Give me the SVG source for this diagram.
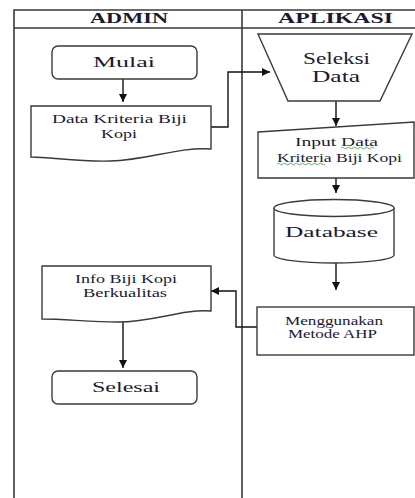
<svg xmlns="http://www.w3.org/2000/svg" width="415" height="498" viewBox="0 0 415 498">
<style>
.frame{fill:none;stroke:#3a3a3a;stroke-width:1.6}
.shape{fill:#fff;stroke:#3a3a3a;stroke-width:1.4}
.line{fill:none;stroke:#111;stroke-width:1.4}
.t{font-family:"Liberation Serif","Times New Roman",serif;fill:#1a1a35}
.h{font-weight:bold;font-size:14px}
.big{font-size:15.5px}
.sm{font-size:11.5px}
.sq{fill:none;stroke:#3c9a3c;stroke-width:0.8}
</style>
<defs>
<marker id="ah" viewBox="0 0 10 10" refX="10" refY="5" markerWidth="8" markerHeight="8" markerUnits="userSpaceOnUse" orient="auto">
<path d="M0,0 L10,5 L0,10 Z" fill="#111"/>
</marker>
</defs>
<g id="frame">
<path class="frame" d="M14,498 V10 H415 M14,28 H415 M242,10 V498"/>
<text class="t h" x="90" y="23" textLength="78" lengthAdjust="spacingAndGlyphs">ADMIN</text>
<text class="t h" x="278" y="23" textLength="115" lengthAdjust="spacingAndGlyphs">APLIKASI</text>
</g>
<g id="connectors">
<path class="line" d="M123,79 V102" marker-end="url(#ah)"/>
<path class="line" d="M211,127 H228 V72 H270" marker-end="url(#ah)"/>
<path class="line" d="M336,101 V126" marker-end="url(#ah)"/>
<path class="line" d="M336,178 V193" marker-end="url(#ah)"/>
<path class="line" d="M336,263 V290" marker-end="url(#ah)"/>
<path class="line" d="M257,327 H236 V291 H211" marker-end="url(#ah)"/>
<path class="line" d="M123,320 V368" marker-end="url(#ah)"/>
</g>
<g id="mulai">
<rect class="shape" x="52" y="46" width="145" height="33" rx="6"/>
<text class="t big" x="93" y="67" textLength="62" lengthAdjust="spacingAndGlyphs">Mulai</text>
</g>
<g id="data-kriteria">
<path class="shape" d="M31,106 H211 V149 C175,147 150,160 110,161 C80,162 50,157 31,157 Z"/>
<text class="t sm" x="52" y="123" textLength="135" lengthAdjust="spacingAndGlyphs">Data Kriteria  Biji</text>
<text class="t sm" x="101" y="138" textLength="36" lengthAdjust="spacingAndGlyphs">Kopi</text>
</g>
<g id="seleksi">
<path class="shape" d="M258,34 H412 L380,101 H288 Z"/>
<text class="t big" x="303" y="64" textLength="67" lengthAdjust="spacingAndGlyphs" style="font-size:16px">Seleksi</text>
<text class="t big" x="312" y="82" textLength="48" lengthAdjust="spacingAndGlyphs" style="font-size:16px">Data</text>
</g>
<g id="input-data">
<path class="shape" d="M258,132 L414,122 V178 H258 Z"/>
<text class="t sm" x="295" y="146" textLength="83" lengthAdjust="spacingAndGlyphs">Input Data</text>
<text class="t sm" x="277" y="162" textLength="125" lengthAdjust="spacingAndGlyphs">Kriteria Biji Kopi</text>
<path class="sq" d="M341,148 q1.5,-1.5 3,0 t3,0 t3,0 t3,0 t3,0 t3,0 t3,0 t3,0 t3,0 t3,0 t3,0"/>
<path class="sq" d="M277,164 q1.5,-1.5 3,0 t3,0 t3,0 t3,0 t3,0 t3,0 t3,0 t3,0 t3,0 t3,0 t3,0 t3,0 t3,0 t3,0 t3,0 t3,0"/>
</g>
<g id="database">
<path class="shape" d="M274,208 V255 A60,8 0 0 0 394,255 V208"/>
<ellipse class="shape" cx="334" cy="208" rx="60" ry="8.5"/>
<text class="t big" x="285" y="237" textLength="93" lengthAdjust="spacingAndGlyphs">Database</text>
</g>
<g id="ahp">
<rect class="shape" x="257" y="307" width="157" height="48"/>
<text class="t sm" x="285" y="325" textLength="98" lengthAdjust="spacingAndGlyphs">Menggunakan</text>
<text class="t sm" x="288" y="338" textLength="89" lengthAdjust="spacingAndGlyphs">Metode AHP</text>
</g>
<g id="info">
<path class="shape" d="M42,266 H211 V311 C180,309 155,322 118,322 C90,322 65,319 42,319 Z"/>
<text class="t sm" x="75" y="283" textLength="102" lengthAdjust="spacingAndGlyphs">Info Biji Kopi</text>
<text class="t sm" x="83" y="297" textLength="84" lengthAdjust="spacingAndGlyphs">Berkualitas</text>
</g>
<g id="selesai">
<rect class="shape" x="52" y="371" width="145" height="33" rx="6"/>
<text class="t big" x="92" y="392" textLength="68" lengthAdjust="spacingAndGlyphs">Selesai</text>
</g>
</svg>
